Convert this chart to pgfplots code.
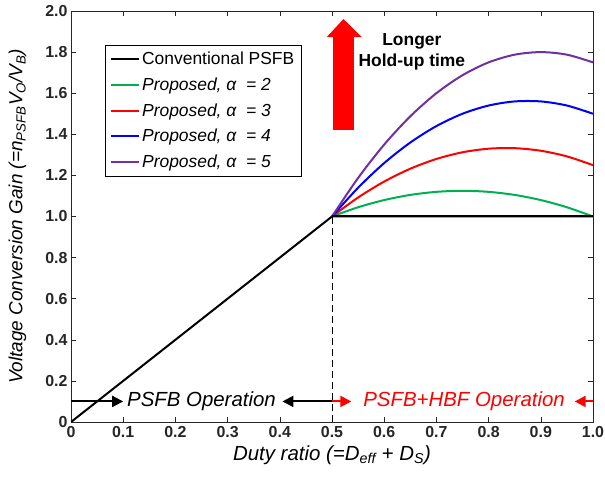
\documentclass[border=0pt]{standalone}
\usepackage{fontspec}
\setmainfont{Liberation Sans}
\usepackage{pgfplots}
\pgfplotsset{compat=1.18}
\usetikzlibrary{arrows.meta,calc}
\definecolor{cgreen}{RGB}{0,176,80}
\definecolor{cpurple}{RGB}{112,48,160}
\definecolor{frame}{RGB}{38,38,38}

\begin{document}
\begin{tikzpicture}
\begin{axis}[
  scale only axis,
  width=522bp, height=411bp,
  xmin=0, xmax=1, ymin=0, ymax=2,
  xtick={0,0.1,0.2,0.3,0.4,0.5,0.6,0.7,0.8,0.9,1},
  xticklabels={0,0.1,0.2,0.3,0.4,0.5,0.6,0.7,0.8,0.9,1.0},
  ytick={0,0.2,0.4,0.6,0.8,1,1.2,1.4,1.6,1.8,2},
  yticklabels={0,0.2,0.4,0.6,0.8,1.0,1.2,1.4,1.6,1.8,2.0},
  tick align=inside,
  major tick length=5bp,
  axis line style={draw=frame, line width=0.6bp},
  major tick style={draw=frame, line width=0.5bp},
  tick label style={font=\fontsize{16}{16}\selectfont\bfseries, text=frame},
  xticklabel style={yshift=-1bp},
  xlabel={Duty ratio (=D\textsubscript{eff} + D\textsubscript{S})},
  ylabel={Voltage Conversion Gain (=n\textsubscript{PSFB}V\textsubscript{O}/V\textsubscript{B})},
  xlabel style={font=\fontsize{20.5}{20.5}\selectfont\itshape, at={(rel axis cs:0.5,-0.0803)}, anchor=center},
  ylabel style={font=\fontsize{19}{19}\selectfont\itshape, at={(rel axis cs:-0.1025,0.5)}, anchor=center},
  legend style={at={(0.065,0.917)}, anchor=north west, draw=black,
    font=\fontsize{17.5}{17.5}\selectfont, row sep=7.5bp, inner xsep=5bp, inner ysep=5bp},
  legend cell align=left,
  legend image code/.code={\draw[#1, line width=2bp] (0bp,0bp) -- (28bp,0bp);},
  every axis plot/.append style={line width=2bp},
]
\addplot[black] coordinates {(0,0) (0.5,1) (1,1)};
\addlegendentry{Conventional PSFB}
\addplot[cgreen, smooth] coordinates {(0.5,1.0) (0.55,1.045) (0.6,1.08) (0.65,1.105) (0.7,1.12) (0.75,1.125) (0.8,1.12) (0.85,1.105) (0.9,1.08) (0.95,1.045) (1.0,1.0)};
\addlegendentry{\textit{Proposed, α\ \ = 2}}
\addplot[red, smooth] coordinates {(0.5,1.0) (0.55,1.0925) (0.6,1.17) (0.65,1.2325) (0.7,1.28) (0.75,1.3125) (0.8,1.33) (0.85,1.3325) (0.9,1.32) (0.95,1.2925) (1.0,1.25)};
\addlegendentry{\textit{Proposed, α\ \ = 3}}
\addplot[blue, smooth] coordinates {(0.5,1.0) (0.55,1.14) (0.6,1.26) (0.65,1.36) (0.7,1.44) (0.75,1.5) (0.8,1.54) (0.85,1.56) (0.9,1.56) (0.95,1.54) (1.0,1.5)};
\addlegendentry{\textit{Proposed, α\ \ = 4}}
\addplot[cpurple, smooth] coordinates {(0.5,1.0) (0.55,1.1875) (0.6,1.35) (0.65,1.4875) (0.7,1.6) (0.75,1.6875) (0.8,1.75) (0.85,1.7875) (0.9,1.8) (0.95,1.7875) (1.0,1.75)};
\addlegendentry{\textit{Proposed, α\ \ = 5}}
\addplot[black, forget plot] coordinates {(0.5,1) (1,1)};
\addplot[black, line width=1bp, dash pattern=on 7bp off 4bp, forget plot] coordinates {(0.5,0) (0.5,1)};

% hold-up arrow
\fill[red] (axis cs:0.502,1.421) -- (axis cs:0.542,1.421) -- (axis cs:0.542,1.873)
  -- (axis cs:0.557,1.873) -- (axis cs:0.522,1.961) -- (axis cs:0.490,1.873)
  -- (axis cs:0.502,1.873) -- cycle;
\node[font=\fontsize{17.5}{21}\selectfont\bfseries, align=center] at (axis cs:0.653,1.80) {Longer\\Hold-up time};

% operation regions
\draw[black, line width=2bp, -{Triangle[length=11bp,width=11bp]}] (axis cs:0,0.1) -- (axis cs:0.1,0.1);
\draw[black, line width=2bp, -{Triangle[length=11bp,width=11bp]}] (axis cs:0.5,0.1) -- (axis cs:0.405,0.1);
\draw[red, line width=2bp, -{Triangle[length=11bp,width=11bp]}] (axis cs:0.5,0.1) -- (axis cs:0.537,0.1);
\draw[red, line width=2bp, -{Triangle[length=11bp,width=11bp]}] (axis cs:1,0.1) -- (axis cs:0.965,0.1);
\node[font=\fontsize{20.5}{20.5}\selectfont\itshape] at (axis cs:0.25,0.1) {PSFB Operation};
\node[font=\fontsize{20.5}{20.5}\selectfont\itshape, text=red] at (axis cs:0.753,0.1) {PSFB+HBF Operation};

\coordinate (bl) at (rel axis cs:0,0);
\coordinate (tr) at (rel axis cs:1,1);
\end{axis}
\pgfresetboundingbox
\path[use as bounding box] ($(bl)+(-71bp,-55bp)$) rectangle ($(tr)+(12bp,11bp)$);
\end{tikzpicture}
\end{document}
